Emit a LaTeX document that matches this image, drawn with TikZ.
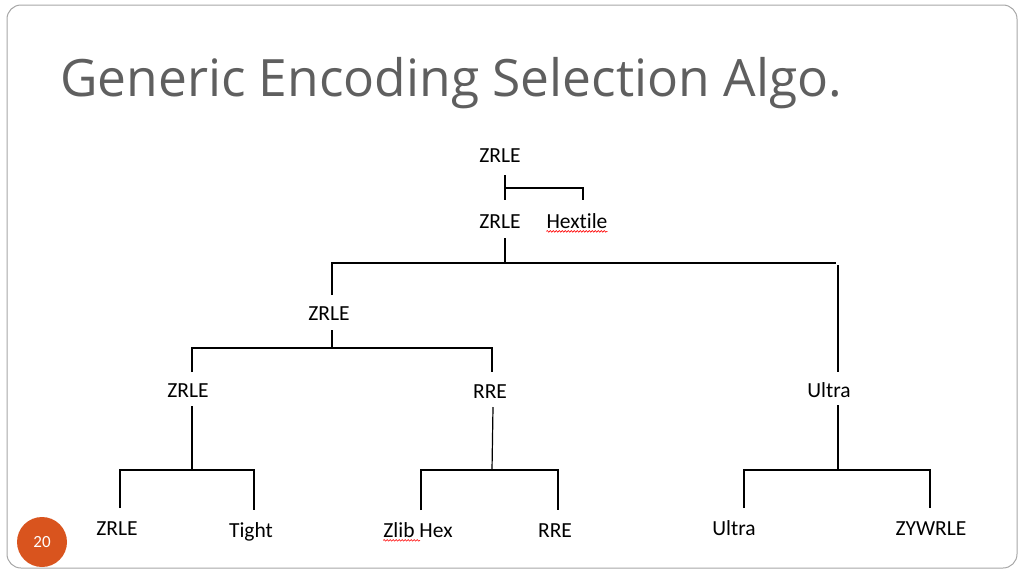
\documentclass[tikz,border=0pt]{standalone}
\usepackage{fontspec}
\setmainfont{Carlito}[Ligatures=NoCommon]
\newfontfamily\titlefont{Open Sans}
\usetikzlibrary{decorations.pathmorphing}
\definecolor{titlegray}{HTML}{5F5F5F}
\definecolor{pgorange}{HTML}{D9541E}
\tikzset{
  lbl/.style={inner sep=0pt,font=\fontsize{21.5}{24}\selectfont,anchor=base},
  ln/.style={line width=1.2pt,black},
  wavy/.style={red,line width=0.6pt,decorate,decoration={snake,amplitude=0.8pt,segment length=3pt}}
}
\begin{document}
\begin{tikzpicture}[x=1pt,y=-1pt]
\useasboundingbox (0,0) rectangle (1024,576);
\draw[gray!70,line width=1pt,rounded corners=14pt] (7,5) rectangle (1017,568);
\node[inner sep=0pt,anchor=base west,text=titlegray,font=\titlefont\fontsize{51.5}{56}\selectfont] (title) at (60,96) {Generic Encoding Selection Algo.};
\node[circle,fill=pgorange,minimum size=50pt,inner sep=0pt,text=white,font=\fontsize{17}{20}\selectfont] (pg) at (42,542) {20};
% labels
\node[lbl] (r0) at (500,162) {ZRLE};
\node[lbl] (r1) at (500,228) {ZRLE};
\node[lbl] (hx) at (577,228) {Hextile};
\node[lbl] (r2) at (329,320) {ZRLE};
\node[lbl] (r3) at (188,397) {ZRLE};
\node[lbl] (rre) at (490,398) {RRE};
\node[lbl] (ul) at (829,397) {Ultra};
\node[lbl] (b1) at (117,535) {ZRLE};
\node[lbl] (b2) at (251,537) {Tight};
\node[lbl] (b3) at (418,537) {Zlib Hex};
\node[lbl] (b4) at (555,537) {RRE};
\node[lbl] (b5) at (734,535) {Ultra};
\node[lbl] (b6) at (931,535) {ZYWRLE};
\draw[wavy] ([yshift=-3pt]hx.south west) -- ([yshift=-3pt]hx.south east);
\draw[wavy] ([yshift=-3pt]b3.south west) -- ++(37,0);
% junctions
\coordinate (j0) at (505,188);
\coordinate (j1) at (505,263);
\coordinate (j2) at (332,348);
\coordinate (j3) at (192,470);
\coordinate (j4) at (492,470);
\coordinate (j5) at (838,470);
% lines
\draw[ln] (505,175) -- (505,200);
\draw[ln] (j0) -- (583,188) -- (583,200);
\draw[ln] (505,238) -- (j1);
\draw[ln] (332,295) -- (332,263) -- (836,263);
\draw[ln] (838,265) -- (838,372);
\draw[ln] (332,330) -- (j2);
\draw[ln] (192,372) -- (192,348) -- (492,348) -- (492,372);
\draw[ln] (192,406) -- (j3);
\draw[ln] (120,508) -- (120,470) -- (254,470) -- (254,510);
\draw[ln] (493,407) -- (j4);
\draw[ln] (421,510) -- (421,470) -- (558,470) -- (558,510);
\draw[ln] (838,405) -- (j5);
\draw[ln] (744,508) -- (744,470) -- (930,470) -- (930,508);
\end{tikzpicture}
\end{document}
